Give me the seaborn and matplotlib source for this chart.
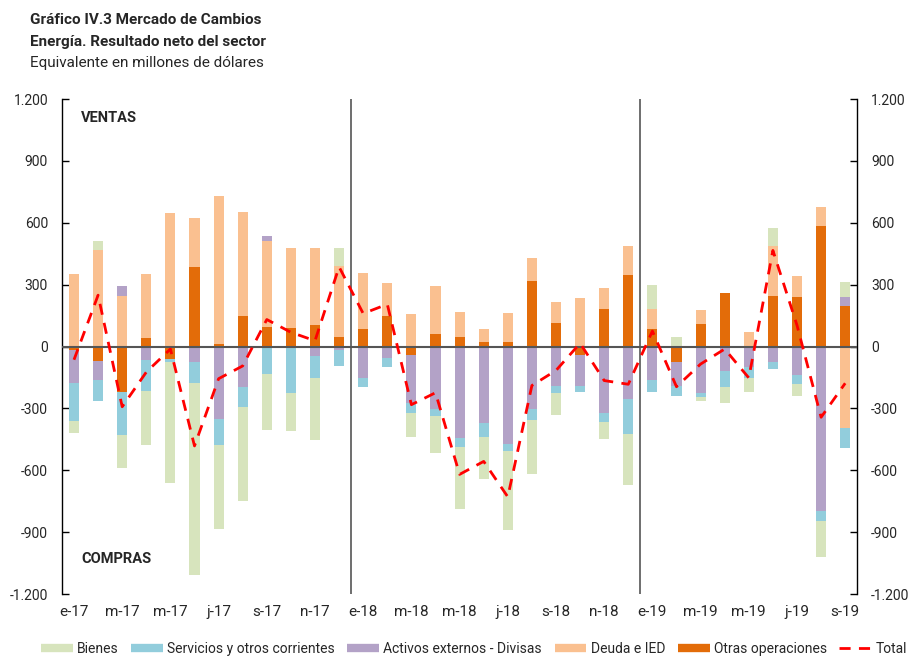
import numpy as np
import matplotlib
matplotlib.use("Agg")
import matplotlib.pyplot as plt
import seaborn as sns
from matplotlib.lines import Line2D

# monthly values, e-17 .. s-19 (millones de USD)
months = ["e-17", "f-17", "m-17", "a-17", "m-17", "j-17", "j-17", "a-17", "s-17", "o-17", "n-17", "d-17",
          "e-18", "f-18", "m-18", "a-18", "m-18", "j-18", "j-18", "a-18", "s-18", "o-18", "n-18", "d-18",
          "e-19", "f-19", "m-19", "a-19", "m-19", "j-19", "j-19", "a-19", "s-19"]

otras = [-16, -68, -221, 40, -60, 384, 13, 148, 94, 89, 105, 44,
         84, 148, -39, 61, 45, 21, 21, 316, 113, -39, 181, 345,
         84, -77, 108, 261, 0, 244, 239, 586, 198]
deuda = [353, 469, 247, 313, 648, 240, 718, 505, 419, 390, 374, 348,
         274, 158, 156, 231, 121, 63, 140, 111, 102, 237, 102, 144,
         97, 0, 71, 0, 69, 245, 105, 92, -395]
activos = [-161, -95, 48, -65, 0, -73, -350, -197, 21, -8, -47, -19,
           -153, -56, -235, -302, -444, -371, -471, -302, -192, -153, -323, -255,
           -163, -115, -226, -119, -100, -73, -139, -797, 40]
servicios = [-182, -102, -206, -152, -13, -102, -126, -97, -132, -215, -106, -74,
             -45, -45, -48, -35, -44, -68, -35, -53, -34, -29, -44, -169,
             -58, -48, -19, -77, -53, -37, -44, -47, -97]
bienes = [-58, 45, -160, -260, -587, -931, -411, -453, -271, -187, -298, 87,
          0, 0, -116, -179, -298, -202, -384, -261, -105, 0, -81, -248,
          115, 45, -19, -77, -68, 87, -58, -177, 76]

series_names = ["Otras operaciones", "Deuda e IED", "Activos externos - Divisas",
                "Servicios y otros corrientes", "Bienes"]
series_vals = [otras, deuda, activos, servicios, bienes]
colors = {"Bienes": "#d7e4bd", "Servicios y otros corrientes": "#92cddc",
          "Activos externos - Divisas": "#b3a2c7", "Deuda e IED": "#fac090",
          "Otras operaciones": "#e36c09"}

yticks = [-1200, -900, -600, -300, 0, 300, 600, 900, 1200]

sns.set_theme(style="white")
plt.rcParams["font.family"] = ["Roboto", "DejaVu Sans"]

fig = plt.figure(figsize=(9.11, 6.56), dpi=100)
ax = fig.add_axes([0.068, 0.0945, 0.873, 0.7545])

x = np.arange(len(months))
pos_bottom = np.zeros(len(months))
neg_bottom = np.zeros(len(months))
for name, vals in zip(series_names, series_vals):
    v = np.array(vals, dtype=float)
    bottom = np.where(v >= 0, pos_bottom, neg_bottom)
    ax.bar(x, v, width=0.42, bottom=bottom, color=colors[name], linewidth=0, zorder=2)
    pos_bottom += np.clip(v, 0, None)
    neg_bottom += np.clip(v, None, 0)

total = np.sum(np.array(series_vals, dtype=float), axis=0)
sns.lineplot(x=x, y=total, ax=ax, color="#ff0000", linestyle=(0, (4, 3)), linewidth=2, zorder=4)

ax.axhline(0, color="#555555", linewidth=1.5, zorder=3)
for xv in [11.5, 23.5]:
    ax.axvline(xv, color="#555555", linewidth=1.2, zorder=3)

ax.set_xlim(-0.5, 32.5)
ax.set_ylim(-1200, 1200)
ax.set_yticks(yticks)
ax.set_yticklabels([f"{t:,}".replace(",", ".") for t in yticks])
ax.set_xticks(x[::2])
ax.set_xticklabels(months[::2])
ax.tick_params(axis="y", direction="in", length=5, width=1, color="black", labelsize=10,
               right=True, labelright=True, left=True, pad=10)
ax.tick_params(axis="x", length=0, labelsize=11, pad=8)
for s in ["top", "bottom"]:
    ax.spines[s].set_visible(False)
for s in ["left", "right"]:
    ax.spines[s].set_color("black")
    ax.spines[s].set_linewidth(1)
ax.grid(False)

ax.text(0.3, 1110, "VENTAS", fontsize=10.5, fontweight="bold", va="center")
ax.text(0.3, -1030, "COMPRAS", fontsize=10.5, fontweight="bold", va="center")

fig.text(30 / 911, 1 - 20 / 656, "Gráfico IV.3 Mercado de Cambios", fontsize=11, fontweight="bold", va="center")
fig.text(30 / 911, 1 - 42 / 656, "Energía. Resultado neto del sector", fontsize=11, fontweight="bold", va="center")
fig.text(30 / 911, 1 - 63 / 656, "Equivalente en millones de dólares", fontsize=11, va="center")

legend_order = ["Bienes", "Servicios y otros corrientes", "Activos externos - Divisas",
                "Deuda e IED", "Otras operaciones"]
handles = [Line2D([0], [0], color=colors[n], linewidth=6, solid_capstyle="butt") for n in legend_order]
handles.append(Line2D([0], [0], color="#ff0000", linestyle=(0, (4, 3)), linewidth=2))
labels = legend_order + ["Total"]
fig.legend(handles, labels, loc="center", bbox_to_anchor=(0.52, 1 - 649 / 656), ncol=6,
           frameon=False, fontsize=10, handlelength=2.3, handletextpad=0.3, columnspacing=0.9,
           borderpad=0, borderaxespad=0)

fig.savefig("out.png", dpi=100)
